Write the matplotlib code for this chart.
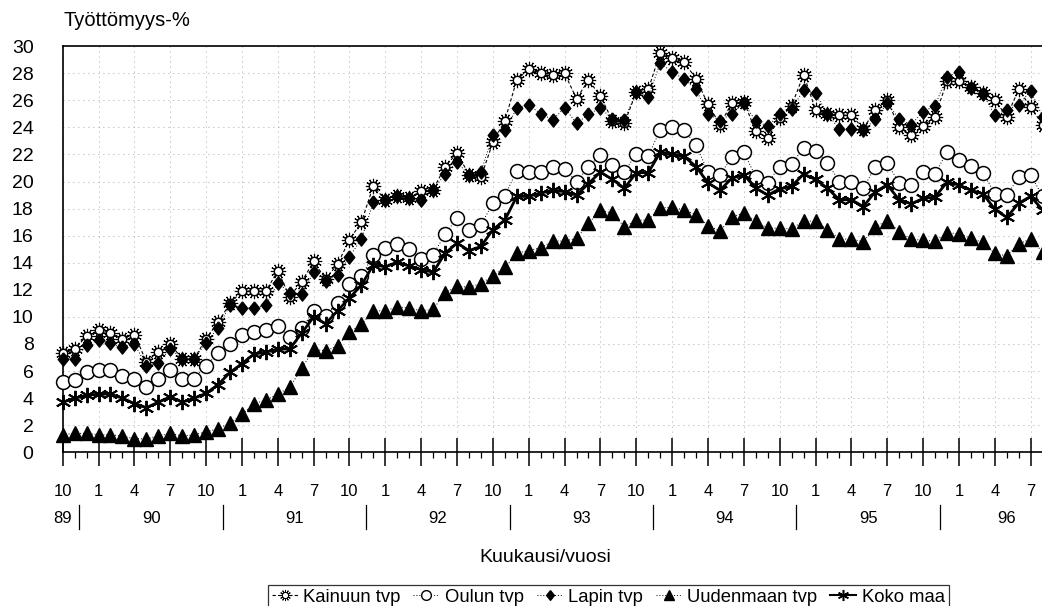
import numpy as np
import matplotlib.pyplot as plt
from matplotlib.lines import Line2D
from matplotlib.legend_handler import HandlerTuple
import matplotlib.transforms as mtransforms

plt.rcParams['font.family'] = ['Liberation Sans', 'DejaVu Sans']

# monthly series, 10/1989 ... 8/1996
kainuu = [7.3, 7.6, 8.6, 9.0, 8.8, 8.4, 8.7, 6.7, 7.4, 8.0, 6.9, 6.9,
          8.4, 9.6, 11.0, 11.9, 11.9, 11.9, 13.4, 11.5, 12.6, 14.1, 12.8, 13.9,
          15.7, 17.0, 19.7, 18.6, 18.9, 18.8, 19.3, 19.4, 21.1, 22.1, 20.5, 20.3,
          22.9, 24.5, 27.5, 28.3, 28.0, 27.9, 28.0, 26.1, 27.5, 26.3, 24.5, 24.3,
          26.6, 26.8, 29.5, 29.1, 28.8, 27.6, 25.7, 24.2, 25.8, 25.9, 23.7, 23.2,
          24.7, 25.6, 27.9, 25.3, 25.0, 24.9, 24.9, 23.9, 25.3, 26.0, 24.0, 23.4,
          24.1, 24.8, 27.4, 27.4, 27.0, 26.5, 26.0, 24.8, 26.8, 25.5, 24.2]
oulu = [5.2, 5.35, 5.95, 6.1, 6.05, 5.6, 5.4, 4.85, 5.4, 6.1, 5.4, 5.45,
        6.4, 7.3, 8.0, 8.65, 8.85, 9.0, 9.3, 8.5, 9.2, 10.4, 10.1, 11.0,
        12.4, 13.0, 14.6, 15.1, 15.4, 15.0, 14.25, 14.6, 16.1, 17.3, 16.4, 16.8,
        18.4, 18.95, 20.8, 20.7, 20.7, 21.05, 20.95, 19.95, 21.1, 21.95, 21.25, 20.7,
        22.05, 21.9, 23.8, 24.05, 23.8, 22.7, 20.7, 20.5, 21.8, 22.15, 20.35, 19.9,
        21.1, 21.3, 22.5, 22.25, 21.35, 20.0, 20.0, 19.5, 21.1, 21.35, 19.9, 19.75,
        20.7, 20.55, 22.2, 21.6, 21.15, 20.65, 19.1, 19.0, 20.3, 20.5, 18.9]
lappi = [6.9, 6.9, 7.9, 8.3, 8.05, 7.75, 8.0, 6.4, 6.6, 7.65, 6.9, 6.9,
         8.1, 9.2, 10.9, 10.65, 10.65, 10.85, 12.5, 11.8, 11.7, 13.3, 12.65, 13.1,
         14.45, 15.75, 18.5, 18.6, 18.95, 18.75, 18.6, 19.4, 20.55, 21.45, 20.45, 20.7,
         23.45, 23.8, 25.4, 25.65, 25.0, 24.55, 25.45, 24.3, 24.95, 25.45, 24.6, 24.55,
         26.6, 26.25, 28.75, 28.1, 27.55, 26.8, 25.0, 24.5, 25.0, 25.8, 24.45, 24.1,
         24.95, 25.35, 26.75, 26.5, 25.0, 23.85, 23.9, 23.8, 24.6, 25.8, 24.6, 24.2,
         25.15, 25.6, 27.75, 28.1, 26.9, 26.45, 24.9, 25.3, 25.65, 26.7, 24.8]
uusimaa = [1.3, 1.4, 1.4, 1.3, 1.3, 1.2, 1.0, 1.0, 1.2, 1.4, 1.2, 1.3,
           1.5, 1.75, 2.15, 2.8, 3.6, 3.85, 4.3, 4.8, 6.2, 7.6, 7.5, 7.85,
           8.9, 9.45, 10.45, 10.45, 10.75, 10.65, 10.45, 10.55, 11.8, 12.25, 12.2, 12.45,
           13.05, 13.65, 14.7, 14.9, 15.1, 15.6, 15.6, 15.8, 16.9, 17.9, 17.65, 16.65,
           17.15, 17.15, 18.05, 18.1, 17.9, 17.55, 16.75, 16.35, 17.35, 17.7, 17.05, 16.55,
           16.55, 16.5, 17.1, 17.05, 16.45, 15.75, 15.75, 15.55, 16.65, 17.1, 16.3, 15.75,
           15.65, 15.6, 16.2, 16.15, 15.8, 15.5, 14.7, 14.5, 15.4, 15.75, 14.8]
koko_maa = [3.7, 4.0, 4.2, 4.3, 4.3, 4.0, 3.6, 3.3, 3.7, 4.1, 3.7, 4.0,
            4.35, 5.0, 5.9, 6.55, 7.25, 7.4, 7.6, 7.65, 8.8, 10.0, 9.5, 10.45,
            11.4, 12.35, 13.85, 13.7, 14.05, 13.75, 13.5, 13.3, 14.7, 15.45, 14.9, 15.2,
            16.45, 17.15, 18.9, 18.9, 19.15, 19.35, 19.25, 19.0, 19.85, 20.7, 20.15, 19.5,
            20.65, 20.65, 22.15, 22.0, 21.85, 21.1, 19.9, 19.35, 20.25, 20.5, 19.5, 19.0,
            19.45, 19.65, 20.55, 20.15, 19.5, 18.65, 18.65, 18.15, 19.25, 19.75, 18.65, 18.35,
            18.75, 18.85, 19.95, 19.75, 19.35, 19.1, 17.95, 17.35, 18.4, 18.9, 17.9]

month_names = ['10', '1', '4', '7']
years = ['89', '90', '91', '92', '93', '94', '95', '96']

x = np.arange(len(kainuu))

# slightly slim diamond like the original symbol
diamond = [(0, 1), (0.8, 0), (0, -1), (-0.8, 0), (0, 1)]

fig = plt.figure(figsize=(10.42, 6.06), dpi=100)
ax = fig.add_axes([62.7 / 1042, 1 - 452.3 / 606, (1042 - 62.7) / 1042, (452.3 - 46.1) / 606])

# Kainuu: sun symbol = asterisk under a small white circle
ax.plot(x, kainuu, color='black', lw=0.8, ls=(0, (3, 2)), zorder=2, clip_on=False)
ax.plot(x, kainuu, ls='none', marker=(12, 2, 0), ms=11, mec='black', mew=0.8,
        zorder=3, clip_on=False)
ax.plot(x, kainuu, ls='none', marker='o', ms=6, mfc='white', mec='black', mew=1.0,
        zorder=3, clip_on=False)

ax.plot(x, oulu, color='black', lw=0.7, ls=(0, (1, 2)), marker='o', ms=10,
        mfc='white', mec='black', mew=1.1, zorder=4, clip_on=False)
ax.plot(x, lappi, color='black', lw=0.7, ls=(0, (1, 2)), marker=diamond, ms=9.5,
        mfc='black', mec='black', zorder=5, clip_on=False)
ax.plot(x, uusimaa, color='black', lw=0.7, ls=(0, (1, 2)), marker='^', ms=9.5,
        mfc='black', mec='black', zorder=5, clip_on=False)
ax.plot(x, koko_maa, color='black', lw=2.0, marker=(6, 2, 0), ms=11, mew=1.4,
        mec='black', zorder=6, clip_on=False)

ax.set_xlim(0, 81.95)
ax.set_ylim(0, 30)

# faint dotted grid
ax.set_yticks(np.arange(0, 31, 2))
ax.set_xticks(np.arange(0, 82, 3))
ax.set_xticks(np.arange(0, 82, 1), minor=True)
ax.grid(True, which='major', color='0.55', lw=0.6, ls=(0, (1, 5)))

ax.spines['right'].set_visible(False)
for side in ['left', 'top', 'bottom']:
    ax.spines[side].set_linewidth(1.2)

ax.tick_params(axis='y', length=0, pad=21, labelsize=14)
ax.tick_params(axis='x', which='major', direction='inout', length=20, width=1.1,
               labelbottom=False)
ax.tick_params(axis='x', which='minor', direction='out', length=4.5, width=0.9)

narrow = ['Liberation Sans Narrow', 'Liberation Sans']
trans = mtransforms.blended_transform_factory(ax.transData, ax.transAxes)
for k, pos in enumerate(np.arange(0, 82, 3)):
    ax.text(pos, -0.097, month_names[k % 4], transform=trans, ha='center',
            va='center', fontsize=12, family=narrow)

year_pos = [0] + [7.4 + 12 * k for k in range(6)] + [79]
for pos, lab in zip(year_pos, years):
    ax.text(pos, -0.163, lab, transform=trans, ha='center', va='center',
            fontsize=12, family=narrow)
for k in range(7):
    ax.plot([1.4 + 12 * k] * 2, [-0.13, -0.19], transform=trans, color='black',
            lw=0.9, clip_on=False)

fig.text(63 / 1042, 1 - 21 / 606, 'Työttömyys-%', ha='left', va='center', fontsize=14.5)
fig.text(545 / 1042, 1 - 557 / 606, 'Kuukausi/vuosi', ha='center', va='center', fontsize=14)

# legend handles
h_kainuu = (Line2D([], [], color='black', lw=0.8, ls=(0, (3, 2))),
            Line2D([], [], ls='none', marker=(12, 2, 0), ms=8, mec='black', mew=0.7),
            Line2D([], [], ls='none', marker='o', ms=4.5, mfc='white', mec='black', mew=0.8))
h_oulu = Line2D([], [], color='black', lw=0.7, ls=(0, (1, 2)), marker='o', ms=7,
                mfc='white', mec='black')
h_lappi = Line2D([], [], color='black', lw=0.7, ls=(0, (1, 2)), marker=diamond, ms=7,
                 mfc='black', mec='black')
h_uusimaa = Line2D([], [], color='black', lw=0.7, ls=(0, (1, 2)), marker='^', ms=7,
                   mfc='black', mec='black')
h_koko = Line2D([], [], color='black', lw=1.5, marker=(6, 2, 0), ms=8, mew=1.1, mec='black')

leg = fig.legend([h_kainuu, h_oulu, h_lappi, h_uusimaa, h_koko],
                 ['Kainuun tvp', 'Oulun tvp', 'Lapin tvp', 'Uudenmaan tvp', 'Koko maa'],
                 handler_map={tuple: HandlerTuple(ndivide=1)},
                 loc='upper left', bbox_to_anchor=(268 / 1042, 1 - 585 / 606),
                 ncol=5, fontsize=13.3, frameon=True, fancybox=False,
                 edgecolor='black', handlelength=1.4, handletextpad=0.3,
                 columnspacing=0.7, borderpad=0.2, borderaxespad=0)
leg.get_frame().set_linewidth(0.9)

fig.savefig('out.png', dpi=100)
